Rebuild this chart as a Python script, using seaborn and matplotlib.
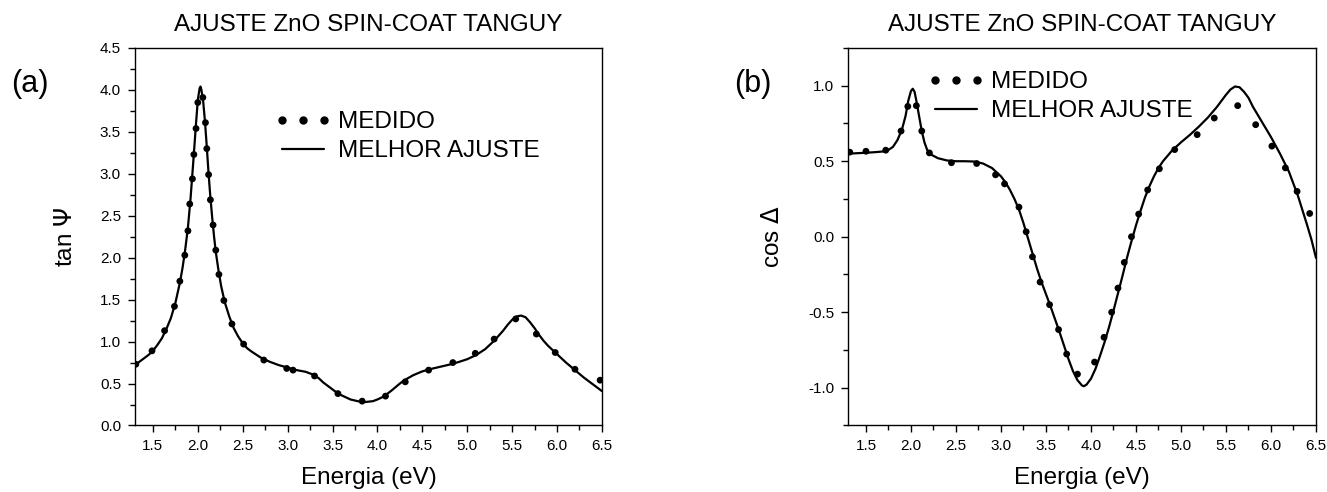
import numpy as np
import pandas as pd
import matplotlib
matplotlib.use("Agg")
import matplotlib.pyplot as plt
from matplotlib.lines import Line2D
from matplotlib.ticker import MultipleLocator
import seaborn as sns

# (a) tan Psi - measured points
meas_a_x = [1.31, 1.49, 1.63, 1.74, 1.80, 1.855, 1.89, 1.91, 1.94, 1.956, 1.98, 2.00,
            2.056, 2.085, 2.10, 2.12, 2.14, 2.17, 2.20, 2.235, 2.29, 2.38, 2.51, 2.735,
            2.99, 3.06, 3.30, 3.56, 3.83, 4.09, 4.31, 4.57, 4.84, 5.09, 5.30, 5.54,
            5.77, 5.98, 6.20, 6.48]
meas_a_y = [0.73, 0.89, 1.13, 1.42, 1.72, 2.03, 2.32, 2.64, 2.94, 3.23, 3.54, 3.85,
            3.91, 3.61, 3.30, 2.99, 2.69, 2.39, 2.09, 1.80, 1.49, 1.21, 0.97, 0.78,
            0.68, 0.66, 0.59, 0.38, 0.29, 0.35, 0.52, 0.66, 0.75, 0.86, 1.03, 1.27,
            1.09, 0.87, 0.67, 0.54]

# (a) tan Psi - best fit
fit_a_x = [1.30, 1.35, 1.40, 1.45, 1.50, 1.55, 1.60, 1.65, 1.70, 1.75, 1.80, 1.83,
           1.86, 1.89, 1.92, 1.95, 1.98, 2.00, 2.02, 2.03, 2.04, 2.06, 2.08, 2.10,
           2.12, 2.14, 2.16, 2.18, 2.20, 2.23, 2.26, 2.30, 2.35, 2.40, 2.45, 2.50,
           2.55, 2.60, 2.70, 2.80, 2.90, 3.00, 3.10, 3.20, 3.25, 3.30, 3.35, 3.40,
           3.45, 3.50, 3.55, 3.60, 3.70, 3.80, 3.87, 3.95, 4.00, 4.05, 4.10, 4.15,
           4.20, 4.25, 4.30, 4.40, 4.50, 4.60, 4.70, 4.80, 4.90, 5.00, 5.10, 5.20,
           5.30, 5.40, 5.45, 5.50, 5.55, 5.60, 5.65, 5.70, 5.75, 5.80, 5.85, 5.90,
           6.00, 6.10, 6.20, 6.30, 6.40, 6.50]
fit_a_y = [0.72, 0.76, 0.80, 0.84, 0.89, 0.96, 1.04, 1.15, 1.28, 1.46, 1.70, 1.88,
           2.10, 2.36, 2.72, 3.15, 3.60, 3.88, 4.02, 4.04, 4.00, 3.86, 3.62, 3.32,
           3.00, 2.72, 2.48, 2.26, 2.07, 1.85, 1.66, 1.47, 1.30, 1.16, 1.06, 0.98,
           0.92, 0.88, 0.81, 0.76, 0.72, 0.69, 0.66, 0.64, 0.62, 0.60, 0.56, 0.51,
           0.47, 0.43, 0.39, 0.36, 0.31, 0.285, 0.28, 0.29, 0.31, 0.335, 0.37, 0.41,
           0.455, 0.50, 0.54, 0.60, 0.645, 0.675, 0.70, 0.725, 0.755, 0.79, 0.84, 0.91,
           1.01, 1.13, 1.20, 1.26, 1.30, 1.31, 1.29, 1.23, 1.16, 1.08, 1.01, 0.95,
           0.85, 0.75, 0.66, 0.57, 0.49, 0.41]

# (b) cos Delta - measured points
meas_b_x = [1.32, 1.50, 1.72, 1.89, 1.965, 2.06, 2.12, 2.205, 2.45, 2.73, 2.94, 3.04,
            3.20, 3.28, 3.35, 3.435, 3.54, 3.64, 3.73, 3.85, 4.04, 4.145, 4.23, 4.30,
            4.37, 4.45, 4.53, 4.63, 4.76, 4.93, 5.18, 5.37, 5.63, 5.83, 6.01, 6.16,
            6.29, 6.43]
meas_b_y = [0.56, 0.566, 0.573, 0.70, 0.863, 0.868, 0.70, 0.555, 0.49, 0.485, 0.41, 0.35,
            0.196, 0.033, -0.133, -0.30, -0.45, -0.615, -0.777, -0.91, -0.83, -0.666,
            -0.50, -0.34, -0.17, 0.0, 0.15, 0.31, 0.45, 0.577, 0.676, 0.786, 0.868,
            0.742, 0.60, 0.456, 0.30, 0.154]

# (b) cos Delta - best fit
fit_b_x = [1.30, 1.40, 1.50, 1.60, 1.70, 1.75, 1.80, 1.85, 1.90, 1.94, 1.97, 2.00,
           2.02, 2.04, 2.06, 2.09, 2.12, 2.15, 2.18, 2.22, 2.30, 2.40, 2.50, 2.60,
           2.70, 2.80, 2.90, 3.00, 3.05, 3.10, 3.15, 3.20, 3.25, 3.30, 3.35, 3.40,
           3.45, 3.50, 3.55, 3.60, 3.65, 3.70, 3.75, 3.80, 3.85, 3.90, 3.92, 3.95,
           4.00, 4.05, 4.10, 4.15, 4.20, 4.25, 4.30, 4.35, 4.40, 4.45, 4.50, 4.55,
           4.60, 4.65, 4.70, 4.75, 4.80, 4.90, 5.00, 5.10, 5.20, 5.30, 5.40, 5.50,
           5.55, 5.60, 5.65, 5.70, 5.75, 5.80, 5.90, 6.00, 6.10, 6.20, 6.30, 6.40,
           6.45, 6.50]
fit_b_y = [0.55, 0.553, 0.556, 0.56, 0.565, 0.575, 0.595, 0.64, 0.71, 0.80, 0.90, 0.965,
           0.98, 0.96, 0.90, 0.80, 0.70, 0.625, 0.575, 0.545, 0.52, 0.505, 0.50, 0.50,
           0.498, 0.485, 0.455, 0.40, 0.36, 0.31, 0.25, 0.18, 0.09, -0.01, -0.11, -0.21,
           -0.30, -0.38, -0.46, -0.545, -0.63, -0.72, -0.81, -0.89, -0.95, -0.985, -0.99, -0.98,
           -0.94, -0.875, -0.79, -0.70, -0.60, -0.49, -0.375, -0.26, -0.14, -0.03, 0.075, 0.17,
           0.26, 0.335, 0.40, 0.455, 0.50, 0.57, 0.625, 0.675, 0.73, 0.79, 0.86, 0.94,
           0.975, 0.995, 0.99, 0.96, 0.92, 0.86, 0.76, 0.66, 0.55, 0.43, 0.27, 0.08,
           -0.02, -0.14]

title = "AJUSTE ZnO SPIN-COAT TANGUY"
xlabel = "Energia (eV)"

sns.set_style("ticks")
plt.rcParams["font.family"] = ["Liberation Sans", "DejaVu Sans"]
for key in ["text.color", "axes.labelcolor", "xtick.color", "ytick.color",
            "axes.edgecolor"]:
    plt.rcParams[key] = "black"

fig = plt.figure(figsize=(13.27, 4.92), dpi=100)
ax_a = fig.add_axes([0.1017, 0.1352, 0.3519, 0.7673])
ax_b = fig.add_axes([0.6390, 0.1352, 0.3527, 0.7673])

panels = [
    (ax_a, meas_a_x, meas_a_y, fit_a_x, fit_a_y, r"tan $\Psi$", (0, 4.5), "(a)",
     (275 / 1327, 1 - 111 / 492), -0.124, 30),
    (ax_b, meas_b_x, meas_b_y, fit_b_x, fit_b_y, r"cos $\Delta$", (-1.25, 1.25), "(b)",
     (928 / 1327, 1 - 71 / 492), -0.137, 753),
]

for ax, mx, my, fx, fy, ylab, ylim, tag, legpos, ylab_x, tag_x in panels:
    df_fit = pd.DataFrame({"E": fx, "v": fy})
    df_meas = pd.DataFrame({"E": mx, "v": my})
    sns.lineplot(data=df_fit, x="E", y="v", ax=ax, color="black", linewidth=1.6,
                 sort=True, zorder=2)
    sns.scatterplot(data=df_meas, x="E", y="v", ax=ax, color="black", s=24,
                    edgecolor="none", zorder=3)

    ax.set_xlim(1.3, 6.5)
    ax.set_ylim(*ylim)
    ax.xaxis.set_major_locator(MultipleLocator(0.5))
    ax.xaxis.set_minor_locator(MultipleLocator(0.25))
    ax.yaxis.set_major_locator(MultipleLocator(0.5))
    ax.yaxis.set_minor_locator(MultipleLocator(0.25))
    ax.xaxis.set_major_formatter(plt.FuncFormatter(lambda v, p: f"{v:.1f}"))
    ax.yaxis.set_major_formatter(plt.FuncFormatter(lambda v, p: f"{v:.1f}"))
    ax.tick_params(which="major", direction="out", length=5, width=1.0,
                   labelsize=11, pad=5, top=False, right=False)
    ax.tick_params(which="minor", direction="out", length=3.5, width=1.0,
                   top=False, right=False)
    for sp in ax.spines.values():
        sp.set_visible(True)
        sp.set_linewidth(1.0)
        sp.set_color("black")

    ax.set_xlabel(xlabel, fontsize=17.5, labelpad=10)
    ax.set_ylabel(ylab, fontsize=17.5)
    ax.yaxis.set_label_coords(ylab_x, 0.5)
    ax.set_title(title, fontsize=17.5, pad=12)

    handles = [
        Line2D([], [], color="black", linestyle="none", marker="o", markersize=5),
        Line2D([], [], color="black", linewidth=1.6),
    ]
    ax.legend(handles, ["MEDIDO", "MELHOR AJUSTE"], loc="upper left",
              bbox_to_anchor=legpos, bbox_transform=fig.transFigure,
              frameon=False, fontsize=17.5, numpoints=3, handlelength=2.3,
              handletextpad=0.3, labelspacing=0.3, borderaxespad=0,
              borderpad=0)

    fig.text(tag_x / 1327, 1 - 84 / 492, tag, fontsize=22, ha="center", va="center")

fig.savefig("out.png", dpi=100)
